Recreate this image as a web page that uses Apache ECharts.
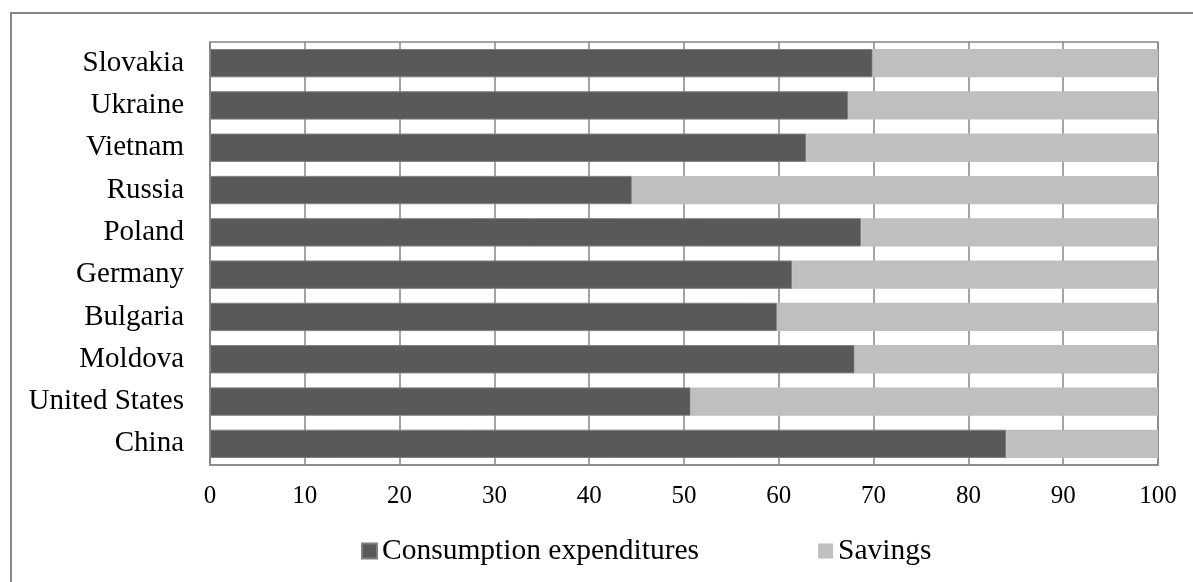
<!DOCTYPE html>
<html>
<head>
<meta charset="utf-8">
<style>
  html, body { margin: 0; padding: 0; background: #ffffff; }
  #chart { width: 1193px; height: 582px; }
</style>
<script src="https://cdn.jsdelivr.net/npm/echarts@6/dist/echarts.min.js"></script>
</head>
<body>
<div id="chart"></div>
<script>
// Share of income spent vs. saved, by country (percent)
const countries = ['Slovakia', 'Ukraine', 'Vietnam', 'Russia', 'Poland', 'Germany', 'Bulgaria', 'Moldova', 'United States', 'China'];
const consumption = [69.9, 67.3, 62.9, 44.5, 68.7, 61.4, 59.8, 68.0, 50.7, 84.0];
const savings = [30.1, 32.7, 37.1, 55.5, 31.3, 38.6, 40.2, 32.0, 49.3, 16.0];
const xTicks = [0, 10, 20, 30, 40, 50, 60, 70, 80, 90, 100];

const serif = '"Liberation Serif", "Times New Roman", serif';
const frameGray = '#868686';

const chart = echarts.init(document.getElementById('chart'), null, { renderer: 'canvas' });

chart.setOption({
  backgroundColor: '#ffffff',
  animation: false,
  textStyle: { fontFamily: serif, color: '#000' },
  graphic: [{
    type: 'rect',
    shape: { x: 11, y: 13, width: 1300, height: 700 },
    style: { fill: 'none', stroke: frameGray, lineWidth: 2 },
    silent: true,
    z: -10
  }],
  grid: {
    left: 210, right: 35, top: 42, bottom: 117,
    show: true,
    borderColor: frameGray,
    borderWidth: 1.5,
    backgroundColor: 'transparent'
  },
  legend: {
    data: ['Consumption expenditures', 'Savings'],
    left: 356,
    top: 531,
    icon: 'rect',
    itemWidth: 15,
    itemHeight: 15,
    itemGap: 119,
    textStyle: { fontFamily: serif, fontSize: 29.5, color: '#000' }
  },
  xAxis: {
    type: 'value',
    min: 0,
    max: 100,
    interval: 10,
    axisLine: { show: true, lineStyle: { color: frameGray, width: 1.5 } },
    axisTick: { show: false },
    splitLine: { show: true, lineStyle: { color: frameGray, width: 1.5 } },
    axisLabel: {
      fontFamily: serif, fontSize: 25, color: '#000', margin: 19,
      formatter: v => xTicks.includes(v) ? String(v) : ''
    }
  },
  yAxis: {
    type: 'category',
    data: countries,
    inverse: true,
    axisLine: { show: true, lineStyle: { color: frameGray, width: 1.5 } },
    axisTick: { show: false },
    splitLine: { show: false },
    axisLabel: { fontFamily: serif, fontSize: 29, color: '#000', margin: 26 }
  },
  series: [
    {
      name: 'Consumption expenditures',
      type: 'bar',
      stack: 'total',
      data: consumption,
      barCategoryGap: '33%',
      itemStyle: { color: '#595959', borderColor: '#7f7f7f', borderWidth: 1 }
    },
    {
      name: 'Savings',
      type: 'bar',
      stack: 'total',
      data: savings,
      barCategoryGap: '33%',
      itemStyle: { color: '#bfbfbf' }
    }
  ]
});
</script>
</body>
</html>
